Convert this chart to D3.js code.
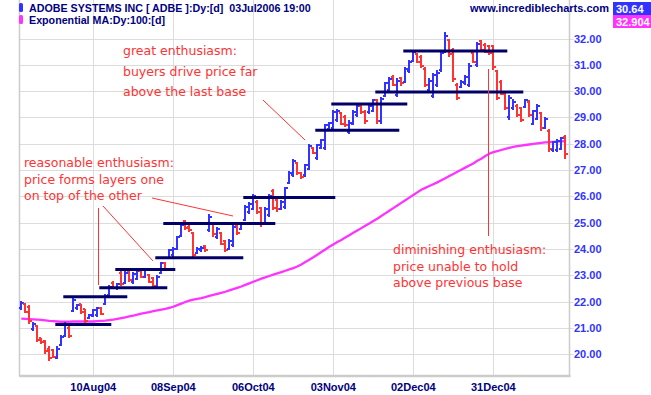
<!DOCTYPE html>
<html>
<head>
<meta charset="utf-8">
<script src="https://cdn.jsdelivr.net/npm/d3@7"></script>
<style>
  body { margin: 0; background: #fff; }
  svg { display: block; }
</style>
</head>
<body>
<div id="chart"></div>
<script>
// trading calendar
const firstDay = "2004-07-15";
const lastDay = "2005-01-27";
const holidays = ["2004-09-06", "2004-11-25", "2004-12-24", "2005-01-17"];

// daily bars, ADBE Jul 2004 - Jan 2005
const open = [
  21.75, 21.9, 21.8, 20.95, 21.05, 20.6, 20.5, 20.2, 20.15, 19.85,
  20.35, 20.7, 21.0, 21.65, 21.75, 21.9, 21.7, 21.38, 21.45, 21.5,
  21.75, 21.9, 22.25, 22.7, 22.5, 23.1, 22.7, 23.15, 22.75, 22.85,
  23.15, 22.95, 23.0, 22.9, 22.55, 23.1, 23.45, 23.65, 23.75, 24.0,
  24.5, 25.05, 24.85, 24.6, 23.85, 23.95, 24.1, 24.7, 25.0, 24.45,
  24.6, 24.3, 23.98, 24.15, 24.9, 24.75, 25.1, 25.4, 25.5, 25.8,
  25.55, 24.95, 25.3, 26.2, 25.85, 25.5, 25.6, 26.5, 26.8, 27.25,
  26.9, 26.8, 27.05, 27.85, 27.45, 27.85, 27.85, 28.55, 28.6, 28.9,
  29.15, 29.0, 28.45, 28.75, 29.1, 29.45, 29.2, 29.2, 29.25, 29.65,
  28.85, 29.8, 30.05, 30.55, 29.85, 30.5, 30.35, 30.75, 31.15, 31.4,
  31.3, 30.85, 30.05, 29.8, 30.25, 30.8, 31.5, 31.95, 31.55, 30.25,
  30.15, 30.3, 30.25, 31.45, 31.0, 31.9, 31.75, 31.7, 31.7, 30.75,
  30.35, 29.95, 29.0, 29.35, 29.45, 29.35, 29.4, 29.6, 28.75, 28.95,
  29.15, 28.6, 28.5, 27.75, 27.75, 27.8, 28.25
];
const high = [
  22.02, 21.95, 21.85, 21.23, 21.1, 20.62, 20.53, 20.3, 20.2, 20.3,
  20.72, 21.22, 21.05, 22.15, 21.92, 21.92, 21.73, 21.54, 21.73, 21.8,
  21.8, 22.3, 22.62, 22.77, 22.72, 23.16, 23.19, 23.19, 23.13, 23.22,
  23.17, 23.24, 23.06, 22.93, 23.0, 23.5, 23.5, 24.0, 24.07, 24.5,
  24.96, 25.09, 24.9, 24.64, 24.07, 24.1, 24.14, 25.34, 25.03, 24.84,
  24.65, 24.33, 24.39, 24.9, 24.96, 25.03, 25.66, 25.79, 26.1, 25.85,
  25.6, 25.6, 26.1, 26.29, 25.91, 25.85, 26.36, 26.95, 27.43, 27.3,
  26.92, 27.24, 28.0, 27.87, 28.0, 28.19, 28.76, 28.83, 29.27, 29.33,
  29.2, 29.08, 28.89, 29.27, 29.52, 29.52, 29.27, 29.52, 29.71, 29.71,
  29.78, 30.35, 30.55, 30.6, 30.5, 30.55, 30.9, 31.18, 31.58, 31.45,
  31.37, 30.9, 30.5, 30.67, 30.8, 31.5, 32.26, 32.0, 31.62, 30.3,
  30.42, 30.61, 31.05, 31.5, 31.88, 31.94, 31.81, 31.75, 31.75, 30.8,
  30.42, 30.0, 29.84, 29.7, 29.52, 29.4, 29.7, 29.65, 29.3, 29.52,
  29.2, 29.0, 28.57, 28.1, 28.19, 28.26, 28.32
];
const low = [
  21.69, 21.55, 21.15, 20.88, 20.47, 20.4, 20.0, 19.72, 19.85, 19.82,
  20.3, 20.65, 20.63, 21.6, 21.67, 21.54, 21.16, 21.35, 21.42, 21.42,
  21.48, 21.86, 22.2, 22.47, 22.45, 22.58, 22.65, 22.74, 22.68, 22.8,
  22.9, 22.9, 22.7, 22.55, 22.5, 23.05, 23.18, 23.6, 23.7, 23.95,
  24.45, 24.71, 24.65, 23.67, 23.82, 23.88, 23.88, 24.64, 24.45, 24.39,
  24.14, 23.89, 23.95, 24.07, 24.52, 24.71, 25.05, 25.34, 25.47, 25.34,
  24.84, 24.9, 25.22, 25.47, 25.41, 25.47, 25.53, 26.45, 26.73, 26.8,
  26.67, 26.73, 26.99, 27.62, 27.37, 27.81, 27.75, 28.51, 28.51, 28.83,
  28.7, 28.64, 28.38, 28.7, 29.02, 29.14, 28.76, 29.14, 29.2, 28.76,
  28.76, 29.78, 29.97, 30.2, 29.78, 30.2, 30.3, 30.7, 31.1, 31.05,
  30.86, 30.17, 29.97, 29.72, 30.17, 30.74, 31.43, 31.31, 30.36, 29.66,
  30.1, 30.23, 30.17, 31.05, 30.93, 31.5, 31.43, 31.37, 30.8, 29.66,
  29.84, 29.27, 28.9, 29.3, 29.02, 28.83, 29.35, 29.02, 28.7, 28.89,
  28.5, 28.55, 27.69, 27.69, 27.7, 27.75, 27.43
];
const close = [
  21.95, 21.6, 21.25, 21.15, 20.55, 20.45, 20.1, 19.85, 19.9, 20.2,
  20.65, 21.15, 20.7, 22.05, 21.85, 21.6, 21.25, 21.5, 21.68, 21.75,
  21.52, 22.2, 22.55, 22.5, 22.68, 22.65, 23.1, 22.8, 23.05, 23.15,
  22.95, 23.2, 22.75, 22.6, 22.95, 23.45, 23.25, 23.95, 24.0, 24.45,
  24.9, 24.78, 24.7, 23.75, 24.0, 24.05, 23.95, 25.2, 24.55, 24.75,
  24.2, 23.95, 24.3, 24.85, 24.6, 24.98, 25.6, 25.72, 26.0, 25.4,
  24.95, 25.5, 26.0, 25.55, 25.5, 25.8, 26.3, 26.9, 27.35, 26.9,
  26.72, 27.2, 27.9, 27.65, 27.95, 28.15, 28.7, 28.8, 29.2, 29.25,
  28.75, 28.7, 28.8, 29.2, 29.45, 29.2, 28.85, 29.45, 29.65, 28.85,
  29.7, 30.3, 30.45, 30.25, 30.4, 30.3, 30.85, 31.1, 31.5, 31.1,
  30.95, 30.25, 30.4, 30.6, 30.7, 31.45, 32.1, 31.4, 30.45, 29.75,
  30.35, 30.55, 30.95, 31.1, 31.8, 31.55, 31.5, 31.45, 30.9, 29.75,
  29.9, 29.35, 29.75, 29.6, 29.1, 28.9, 29.65, 29.1, 29.25, 29.45,
  28.6, 28.95, 27.8, 28.05, 28.1, 28.2, 27.6
];

// 100 day exponential moving average
const ema100 = [
  21.35, 21.34, 21.33, 21.32, 21.31, 21.30, 21.28, 21.26, 21.25, 21.24,
  21.23, 21.23, 21.23, 21.24, 21.24, 21.24, 21.24, 21.24, 21.24, 21.25,
  21.26, 21.27, 21.29, 21.31, 21.34, 21.37, 21.40, 21.43, 21.46, 21.50,
  21.54, 21.57, 21.60, 21.63, 21.66, 21.69, 21.72, 21.76, 21.80, 21.86,
  21.92, 21.98, 22.03, 22.07, 22.10, 22.13, 22.17, 22.21, 22.25, 22.29,
  22.33, 22.37, 22.42, 22.47, 22.52, 22.57, 22.63, 22.69, 22.75, 22.81,
  22.87, 22.92, 22.97, 23.02, 23.07, 23.12, 23.17, 23.22, 23.27, 23.33,
  23.41, 23.50, 23.59, 23.68, 23.78, 23.88, 23.98, 24.08, 24.17, 24.26,
  24.34, 24.43, 24.52, 24.61, 24.70, 24.79, 24.88, 24.97, 25.06, 25.15,
  25.25, 25.35, 25.45, 25.55, 25.65, 25.75, 25.85, 25.95, 26.05, 26.15,
  26.25, 26.32, 26.39, 26.46, 26.53, 26.61, 26.69, 26.77, 26.85, 26.93,
  27.01, 27.09, 27.17, 27.25, 27.35, 27.43, 27.53, 27.62, 27.68, 27.72,
  27.76, 27.80, 27.84, 27.88, 27.91, 27.93, 27.95, 27.97, 27.99, 28.01,
  28.03, 28.05, 28.06, 28.07, 28.08, 28.09, 28.10
];

// support levels drawn on the chart: from, to, price
const baseFrom = ["2004-07-28", "2004-07-30", "2004-08-12", "2004-08-18", "2004-09-01", "2004-09-03",
  "2004-10-04", "2004-10-28", "2004-11-03", "2004-11-18", "2004-11-30"];
const baseTo = ["2004-08-16", "2004-08-20", "2004-09-03", "2004-09-08", "2004-10-01", "2004-10-13",
  "2004-11-03", "2004-11-26", "2004-11-30", "2005-01-11", "2005-01-05"];
const basePrice = [21.13, 22.18, 22.52, 23.22, 23.66, 24.97, 25.95, 28.51, 29.51, 29.97, 31.52];

const xTicks = ["2004-08-10", "2004-09-08", "2004-10-06", "2004-11-03", "2004-12-02", "2004-12-31"];
const yTicks = [20, 21, 22, 23, 24, 25, 26, 27, 28, 29, 30, 31, 32];

const width = 651, height = 395;
const plot = { left: 19.5, right: 569.5, top: 0, bottom: 376 };
const navy = "#000080", blue = "#3333ff", red = "#ff3333", pink = "#ff33ff";
const labelFont = "Liberation Sans, Arial, sans-serif";

const parse = d3.timeParse("%Y-%m-%d");
const iso = d3.timeFormat("%Y-%m-%d");
const tickFmt = d3.timeFormat("%d%b%y");

const days = d3.timeDay
  .range(parse(firstDay), d3.timeDay.offset(parse(lastDay), 1))
  .filter((d) => d.getDay() % 6 !== 0 && !holidays.includes(iso(d)))
  .map(iso);

const bars = days.map((d, i) => ({
  day: d, o: open[i], h: high[i], l: low[i], c: close[i], ma: ema100[i]
}));

const xScale = d3.scalePoint().domain(days).range([21.3, 565.3]);
const yScale = d3.scaleLinear().domain([20, 32]).range([354.1, 38.5]);

const svg = d3
  .select("#chart")
  .append("svg")
  .attr("width", width)
  .attr("height", height);

// grid
svg.append("g")
  .selectAll("line")
  .data(yTicks)
  .join("line")
  .attr("x1", plot.left)
  .attr("x2", plot.right + 4)
  .attr("y1", (d) => Math.round(yScale(d)) + 0.5)
  .attr("y2", (d) => Math.round(yScale(d)) + 0.5)
  .attr("stroke", "#dcdcdc");

svg.append("g")
  .selectAll("line")
  .data(xTicks)
  .join("line")
  .attr("x1", (d) => Math.round(xScale(d)) + 0.5)
  .attr("x2", (d) => Math.round(xScale(d)) + 0.5)
  .attr("y1", plot.top)
  .attr("y2", plot.bottom)
  .attr("stroke", "#dcdcdc");

// frame
svg.append("path")
  .attr("d", `M${plot.left},${plot.top}V${plot.bottom}H${plot.right}V${plot.top}`)
  .attr("fill", "none")
  .attr("stroke", "#cccccc")
  .attr("stroke-width", 1.5);
svg.append("line")
  .attr("x1", plot.left).attr("x2", plot.right + 1)
  .attr("y1", plot.bottom).attr("y2", plot.bottom)
  .attr("stroke", "#cccccc").attr("stroke-width", 2.5);

// axis labels
svg.append("g")
  .selectAll("text")
  .data(yTicks)
  .join("text")
  .attr("x", 574)
  .attr("y", (d) => yScale(d) + 4)
  .attr("fill", blue)
  .attr("font-family", labelFont)
  .attr("font-weight", "bold")
  .attr("font-size", 11)
  .text((d) => d.toFixed(2));

svg.append("g")
  .selectAll("text")
  .data(xTicks)
  .join("text")
  .attr("x", (d) => xScale(d))
  .attr("y", 391)
  .attr("text-anchor", "middle")
  .attr("fill", navy)
  .attr("font-family", labelFont)
  .attr("font-weight", "bold")
  .attr("font-size", 11)
  .text((d) => tickFmt(parse(d)));

// moving average
svg.append("path")
  .datum(bars)
  .attr("fill", "none")
  .attr("stroke", pink)
  .attr("stroke-width", 2.3)
  .attr("d", d3.line().x((d) => xScale(d.day)).y((d) => yScale(d.ma)));

// OHLC bars
const barG = svg.append("g")
  .attr("shape-rendering", "crispEdges")
  .selectAll("g")
  .data(bars)
  .join("g")
  .attr("stroke", (d) => (d.c >= d.o ? blue : red));

barG.append("line")
  .attr("x1", (d) => xScale(d.day)).attr("x2", (d) => xScale(d.day))
  .attr("y1", (d) => yScale(d.h)).attr("y2", (d) => yScale(d.l))
  .attr("stroke-width", 2.2);
barG.append("line")
  .attr("x1", (d) => xScale(d.day) - 2.5).attr("x2", (d) => xScale(d.day))
  .attr("y1", (d) => yScale(d.o)).attr("y2", (d) => yScale(d.o))
  .attr("stroke-width", 2);
barG.append("line")
  .attr("x1", (d) => xScale(d.day)).attr("x2", (d) => xScale(d.day) + 2.5)
  .attr("y1", (d) => yScale(d.c)).attr("y2", (d) => yScale(d.c))
  .attr("stroke-width", 2);

// base lines
svg.append("g")
  .selectAll("line")
  .data(basePrice)
  .join("line")
  .attr("x1", (d, i) => xScale(baseFrom[i]) - 2)
  .attr("x2", (d, i) => xScale(baseTo[i]) + 2)
  .attr("y1", (d) => yScale(d))
  .attr("y2", (d) => yScale(d))
  .attr("stroke", "#000066")
  .attr("stroke-width", 3);

// annotations
const notes = [
  { x: 123, y: 55, gap: 20.5, lines: ["great enthusiasm:", "buyers drive price far", "above the last base"] },
  { x: 24, y: 167, gap: 16.5, lines: ["reasonable enthusiasm:", "price forms layers one", "on top of the other"] },
  { x: 393, y: 254, gap: 16.5, lines: ["diminishing enthusiasm:", "price unable to hold", "above previous base"] },
];
const noteG = svg.append("g")
  .attr("fill", red)
  .attr("font-family", "DejaVu Sans, Verdana, sans-serif")
  .attr("font-size", 12.5);
notes.forEach((n) => {
  noteG.append("text")
    .selectAll("tspan")
    .data(n.lines)
    .join("tspan")
    .attr("x", n.x)
    .attr("y", (d, i) => n.y + i * n.gap)
    .text((d) => d);
});

const pointers = [
  [[263, 100], [305, 140]],
  [[98.5, 208], [98.5, 285]],
  [[103, 206], [153, 261]],
  [[152, 198], [233, 216]],
  [[488.5, 69], [488.5, 236]],
];
svg.append("g")
  .selectAll("path")
  .data(pointers)
  .join("path")
  .attr("d", d3.line())
  .attr("stroke", red)
  .attr("stroke-width", 1)
  .attr("fill", "none");

// header
const header = svg.append("g")
  .attr("font-family", labelFont)
  .attr("font-weight", "bold")
  .attr("font-size", 11)
  .attr("fill", navy);
header.append("rect").attr("x", 19).attr("y", 3).attr("width", 4).attr("height", 9).attr("rx", 1.5).attr("fill", blue);
header.append("rect").attr("x", 19).attr("y", 15).attr("width", 4).attr("height", 9).attr("rx", 1.5).attr("fill", pink);
header.append("text").attr("x", 29).attr("y", 11.5).attr("font-size", 10.7).style("white-space", "pre")
  .text("ADOBE SYSTEMS INC [ ADBE ]:Dy:[d]  03Jul2006 19:00");
header.append("text").attr("x", 29).attr("y", 23.5).attr("font-size", 10.7).text("Exponential MA:Dy:100:[d]");
header.append("text").attr("x", 609).attr("y", 11.5).attr("text-anchor", "end").text("www.incrediblecharts.com");

header.append("rect").attr("x", 613).attr("y", 2).attr("width", 38).attr("height", 13).attr("fill", blue);
header.append("rect").attr("x", 613).attr("y", 15).attr("width", 38).attr("height", 13).attr("fill", pink);
header.append("text").attr("x", 616).attr("y", 13).attr("fill", "#fff").text("30.64");
header.append("text").attr("x", 616).attr("y", 26).attr("fill", "#fff").text("32.904");
</script>
</body>
</html>
